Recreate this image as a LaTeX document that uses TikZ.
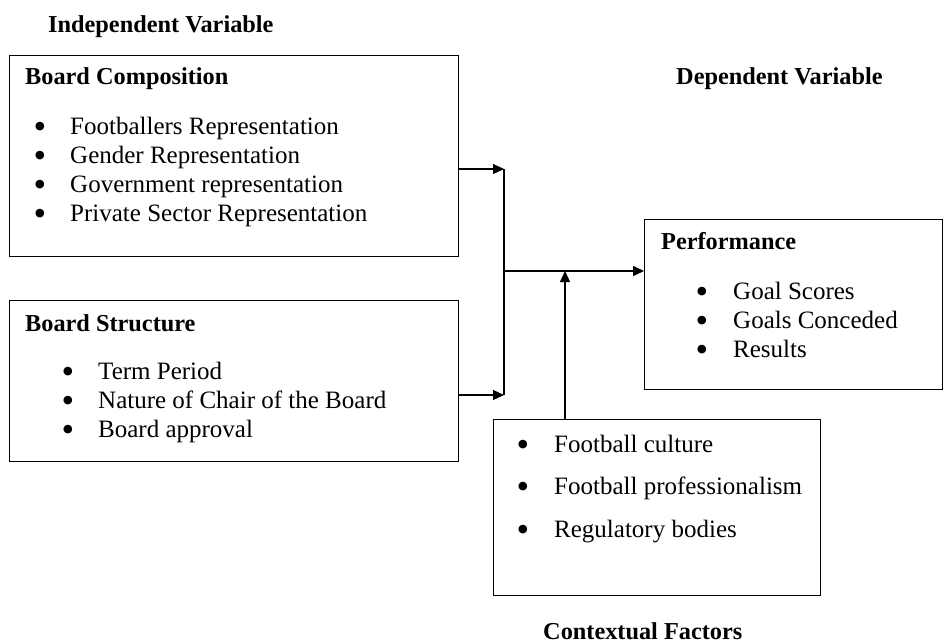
\documentclass[tikz,border=0pt]{standalone}
\usepackage{fontspec}
\setmainfont{Liberation Serif}
\usetikzlibrary{arrows.meta}
\begin{document}
\begin{tikzpicture}[x=1pt,y=-1pt,
  box/.style={draw, line width=1.2pt, inner sep=0pt, anchor=north west},
  txt/.style={anchor=base west, inner sep=0pt, font=\fontsize{25}{29}\selectfont},
  head/.style={anchor=base west, inner sep=0pt, font=\fontsize{24.3}{29}\selectfont\bfseries},
  bul/.style={anchor=base, inner sep=0pt, yshift=-4.5pt, font=\fontsize{36}{29}\selectfont},
  link/.style={line width=1.2pt},
  arr/.style={link, -{Triangle[length=11pt,width=10pt]}}]
\useasboundingbox (0,0) rectangle (944,643);

% group headings
\node[head] (hind) at (48,32) {Independent Variable};
\node[head] (hdep) at (676,84) {Dependent Variable};
\node[head] (hctx) at (543,639) {Contextual Factors};

% frames
\node[box, minimum width=449pt, minimum height=201pt] (comp) at (9,55) {};
\node[box, minimum width=449pt, minimum height=161pt] (struct) at (9,300) {};
\node[box, minimum width=298pt, minimum height=170pt] (perf) at (644,219) {};
\node[box, minimum width=327pt, minimum height=176pt] (ctx) at (493,419) {};

% board composition
\node[head] (compt) at (25,84) {Board Composition};
\foreach \i/\t [count=\k] in {134/Footballers Representation,163/Gender Representation,192/Government representation,221/Private Sector Representation}{
  \node[bul] (compb\k) at (40,\i) {\textbullet};
  \node[txt] (compi\k) at (70,\i) {\t};
}

% board structure
\node[head] (structt) at (25,331) {Board Structure};
\foreach \i/\t [count=\k] in {379/Term Period,408/Nature of Chair of the Board,437/Board approval}{
  \node[bul] (structb\k) at (68,\i) {\textbullet};
  \node[txt] (structi\k) at (98,\i) {\t};
}

% performance
\node[head] (perft) at (661,249) {Performance};
\foreach \i/\t [count=\k] in {299/Goal Scores,328/Goals Conceded,357/Results}{
  \node[bul] (perfb\k) at (702,\i) {\textbullet};
  \node[txt] (perfi\k) at (733,\i) {\t};
}

% contextual factors
\foreach \i/\t [count=\k] in {452/Football culture,494/Football professionalism,537/Regulatory bodies}{
  \node[bul] (ctxb\k) at (523,\i) {\textbullet};
  \node[txt] (ctxi\k) at (554,\i) {\t};
}

% connectors
\coordinate (j1) at (504,169);
\coordinate (j2) at (504,395);
\coordinate (jm) at (504,271);
\coordinate (cu) at (565,271);
\draw[arr] (comp.east |- j1) -- (j1);
\draw[arr] (struct.east |- j2) -- (j2);
\draw[link] (j1) -- (j2);
\draw[arr] (jm) -- (perf.west |- jm);
\draw[arr] (ctx.north -| cu) -- (cu);
\end{tikzpicture}
\end{document}
